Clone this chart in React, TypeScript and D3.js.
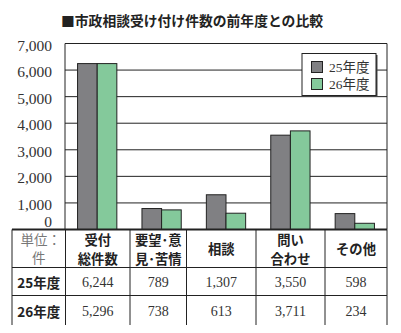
import React from "react";
import * as d3 from "d3";

const categories = ["受付総件数", "要望･意見･苦情", "相談", "問い合わせ", "その他"];
const headerLines = [["受付", "総件数"], ["要望･意", "見･苦情"], ["相談"], ["問い", "合わせ"], ["その他"]];
const seriesNames = ["25年度", "26年度"];
const values25 = [6244, 789, 1307, 3550, 598];
const values26Bars = [6244, 738, 613, 3711, 234];
const table25 = ["6,244", "789", "1,307", "3,550", "598"];
const table26 = ["5,296", "738", "613", "3,711", "234"];
const yTicks = [0, 1000, 2000, 3000, 4000, 5000, 6000, 7000];
const title = "■市政相談受け付け件数の前年度との比較";
const unitLines = ["単位：", "件"];

const W = 401, H = 333;
const plotL = 65, plotR = 387, plotT = 43.5, plotB = 229.5;
const colEdges = [12, 65.5, 130, 186.5, 256, 325, 387];
const rowLines = [267.5, 295.5];
const tableBottom = 325;
const colors = ["#808083", "#84c99b"];
const gothic = "'Noto Sans CJK JP', 'Noto Sans', sans-serif";
const serif = "'Liberation Serif', 'Noto Sans CJK JP', serif";

export default function App() {
  const y = d3.scaleLinear().domain([0, 7000]).range([plotB, plotT]);
  const x0 = d3.scaleBand<string>().domain(categories).range([plotL, plotR]).paddingInner(0.39).paddingOuter(0.195);
  const x1 = d3.scaleBand<string>().domain(seriesNames).range([0, x0.bandwidth()]);
  const series = [values25, values26Bars];
  const colCenter = (i: number) => (colEdges[i] + colEdges[i + 1]) / 2;

  return (
    <svg width={W} height={H} style={{ position: "absolute", left: 0, top: 0, background: "#fff" }}>
      <rect x={0} y={0} width={W} height={H} fill="#fff" />
      <text x={61} y={20} dominantBaseline="central" fontFamily={gothic} fontWeight={700} fontSize={13.8} fill="#222">
        {title}
      </text>
      {/* gridlines */}
      {yTicks.filter((t) => t > 0).map((t) => (
        <line key={t} x1={plotL} x2={plotR} y1={y(t)} y2={y(t)} stroke="#222" strokeWidth={1} />
      ))}
      {/* frame */}
      <line x1={plotL} x2={plotL} y1={plotT} y2={plotB} stroke="#222" strokeWidth={1} />
      <line x1={plotR} x2={plotR} y1={plotT} y2={plotB} stroke="#222" strokeWidth={1} />
      {/* tick labels */}
      {yTicks.map((t) => (
        <text key={t} x={52} y={t === 0 ? y(t) - 8 : y(t) + 1.5} textAnchor="end" dominantBaseline="central"
          fontFamily={serif} fontSize={15.5} fill="#333">
          {d3.format(",")(t)}
        </text>
      ))}
      {/* bars */}
      {categories.map((c, i) => (
        <g key={c} transform={`translate(${x0(c)},0)`}>
          {seriesNames.map((s, k) => (
            <rect key={s} x={x1(s)} y={y(series[k][i])} width={x1.bandwidth()} height={plotB - y(series[k][i])}
              fill={colors[k]} stroke="#222" strokeWidth={1} />
          ))}
        </g>
      ))}
      {/* legend */}
      <rect x={303.5} y={55} width={74} height={42} fill="#444" />
      <rect x={302} y={53.5} width={74} height={42} fill="#fff" stroke="#222" strokeWidth={1} />
      {seriesNames.map((s, k) => (
        <g key={s}>
          <rect x={311.5} y={61.5 + k * 17} width={11} height={11} fill={colors[k]} stroke="#222" strokeWidth={1} />
          <text x={329} y={67 + k * 17} dominantBaseline="central" fontFamily={serif} fontSize={13.5} fill="#333">{s}</text>
        </g>
      ))}
      {/* table */}
      <line x1={colEdges[0]} x2={plotR} y1={plotB} y2={plotB} stroke="#222" strokeWidth={2} />
      {rowLines.map((r) => (
        <line key={r} x1={colEdges[0]} x2={plotR} y1={r} y2={r} stroke="#222" strokeWidth={1} />
      ))}
      {colEdges.map((e, i) => (
        <line key={i} x1={e} x2={e} y1={plotB} y2={tableBottom} stroke="#222" strokeWidth={1} />
      ))}
      {unitLines.map((t, j) => (
        <text key={j} x={colCenter(0) + (j === 0 ? 2 : 0)} y={240 + j * 18.5} textAnchor="middle" dominantBaseline="central"
          fontFamily={serif} fontSize={13.5} fill="#777">{t}</text>
      ))}
      {headerLines.map((lines, i) => (
        lines.map((t, j) => (
          <text key={`${i}-${j}`} x={colCenter(i + 1)} y={lines.length === 1 ? 248.5 : 239.5 + j * 19}
            textAnchor="middle" dominantBaseline="central" fontFamily={gothic} fontWeight={700} fontSize={13.3} fill="#222">{t}</text>
        ))
      ))}
      {[table25, table26].map((row, r) => (
        <g key={r}>
          <text x={colCenter(0)} y={282 + r * 29} textAnchor="middle" dominantBaseline="central"
            fontFamily={gothic} fontWeight={700} fontSize={13.5} fill="#222">{seriesNames[r]}</text>
          {row.map((v, i) => (
            <text key={i} x={colCenter(i + 1)} y={282 + r * 29} textAnchor="middle" dominantBaseline="central"
              fontFamily={serif} fontSize={14} fill="#333">{v}</text>
          ))}
        </g>
      ))}
    </svg>
  );
}
